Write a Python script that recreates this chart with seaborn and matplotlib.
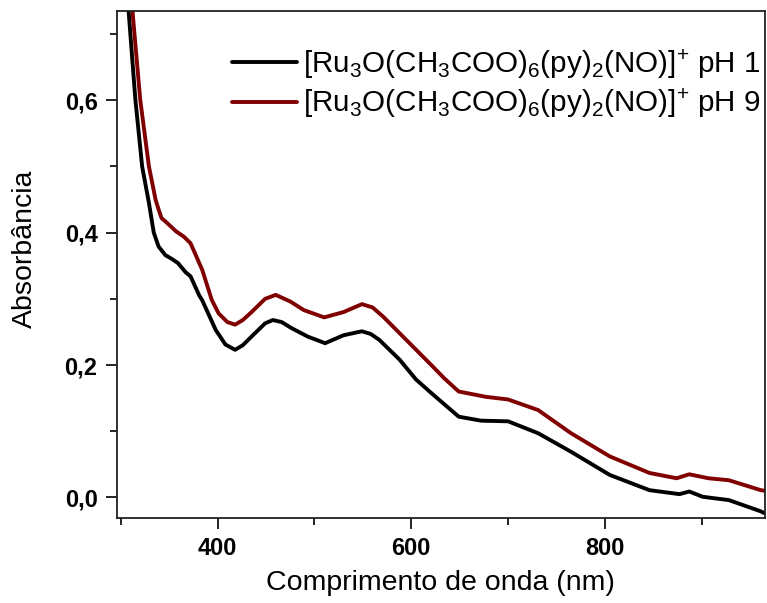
import numpy as np
import pandas as pd
import matplotlib
matplotlib.use("Agg")
import matplotlib.pyplot as plt
from matplotlib.ticker import MultipleLocator, FuncFormatter
import seaborn as sns

# Wavelength (nm) and absorbance readings for each spectrum
wl_ph1 = [300, 308, 315, 322, 329, 334, 339, 346, 353, 359, 367, 372, 381, 384, 398, 408,
          418, 426, 435, 449, 457, 466, 476, 493, 511, 530, 549, 558, 567, 588, 605, 622,
          649, 672, 700, 731, 765, 805, 846, 877, 887, 901, 928, 961, 965]
abs_ph1 = [0.85, 0.735, 0.601, 0.500, 0.445, 0.400, 0.379, 0.366, 0.360, 0.354, 0.340, 0.334,
           0.305, 0.298, 0.253, 0.231, 0.223, 0.230, 0.243, 0.263, 0.268, 0.265, 0.256, 0.243,
           0.233, 0.245, 0.251, 0.247, 0.238, 0.208, 0.178, 0.156, 0.122, 0.116, 0.115, 0.097,
           0.069, 0.034, 0.011, 0.005, 0.009, 0.001, -0.004, -0.021, -0.024]

wl_ph9 = [303, 312, 320, 329, 336, 339, 342, 346, 357, 365, 372, 384, 394, 401, 410, 418,
          426, 435, 449, 460, 475, 489, 510, 530, 549, 560, 571, 588, 605, 622, 634, 649,
          677, 700, 731, 765, 805, 846, 874, 887, 907, 928, 961, 965]
abs_ph9 = [0.85, 0.735, 0.601, 0.500, 0.449, 0.435, 0.422, 0.417, 0.402, 0.394, 0.384, 0.344,
           0.298, 0.278, 0.265, 0.261, 0.268, 0.280, 0.300, 0.306, 0.296, 0.283, 0.272, 0.280,
           0.292, 0.287, 0.273, 0.248, 0.223, 0.198, 0.180, 0.160, 0.152, 0.148, 0.132, 0.097,
           0.062, 0.037, 0.029, 0.035, 0.029, 0.026, 0.011, 0.010]

labels = [r"[Ru$_3$O(CH$_3$COO)$_6$(py)$_2$(NO)]$^{+}$ pH 1",
          r"[Ru$_3$O(CH$_3$COO)$_6$(py)$_2$(NO)]$^{+}$ pH 9"]
colors = ["#000000", "#800000"]

df = pd.concat([
    pd.DataFrame({"wl": wl_ph1, "A": abs_ph1, "amostra": labels[0]}),
    pd.DataFrame({"wl": wl_ph9, "A": abs_ph9, "amostra": labels[1]}),
], ignore_index=True)

sns.set_theme(style="ticks")
plt.rcParams["font.family"] = ["Liberation Sans", "DejaVu Sans"]
plt.rcParams["mathtext.fontset"] = "custom"
plt.rcParams["mathtext.rm"] = "Liberation Sans"
plt.rcParams["mathtext.it"] = "Liberation Sans"
plt.rcParams["mathtext.default"] = "regular"
for key in ["text.color", "axes.labelcolor", "xtick.color", "ytick.color"]:
    plt.rcParams[key] = "black"

fig = plt.figure(figsize=(7.67, 6.03), dpi=100)
ax = fig.add_axes([0.1525, 0.141, 0.8445, 0.841])

sns.lineplot(data=df, x="wl", y="A", hue="amostra", palette=dict(zip(labels, colors)),
             sort=False, estimator=None, linewidth=2.8, ax=ax)

ax.set_xlim(296, 965)
ax.set_ylim(-0.031, 0.735)
ax.xaxis.set_major_locator(MultipleLocator(200))
ax.xaxis.set_minor_locator(MultipleLocator(100))
ax.yaxis.set_major_locator(MultipleLocator(0.2))
ax.yaxis.set_minor_locator(MultipleLocator(0.1))
ax.yaxis.set_major_formatter(FuncFormatter(lambda v, p: f"{v:.1f}".replace(".", ",")))
ax.xaxis.set_major_formatter(FuncFormatter(lambda v, p: f"{v:.0f}"))

ax.tick_params(axis="both", which="major", direction="out", length=8, width=1.2,
               labelsize=17, pad=6, top=False, right=False)
ax.tick_params(axis="both", which="minor", direction="out", length=5, width=1.2,
               top=False, right=False)
for lab in ax.get_xticklabels() + ax.get_yticklabels():
    lab.set_fontweight("bold")
for sp in ax.spines.values():
    sp.set_linewidth(1.3)
    sp.set_color("#222222")

ax.set_xlabel("Comprimento de onda (nm)", fontsize=20.5, labelpad=7)
ax.set_ylabel("Absorbância", fontsize=20.5)
ax.yaxis.set_label_coords(-0.122, 0.53)

handles, _ = ax.get_legend_handles_labels()
ax.legend(handles=handles, labels=labels, loc="upper right", frameon=False,
          fontsize=21.3, handlelength=2.2, handletextpad=0.2, labelspacing=0.2,
          borderaxespad=0.1, bbox_to_anchor=(1.016, 0.958))

fig.savefig("out.png", dpi=100)
